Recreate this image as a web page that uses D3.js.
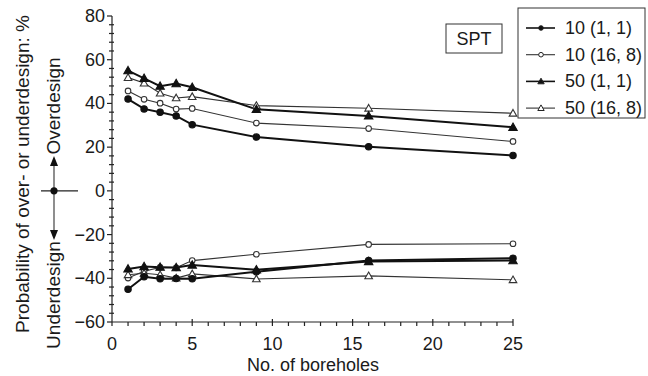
<!DOCTYPE html>
<html><head><meta charset="utf-8">
<script src="https://cdn.jsdelivr.net/npm/d3@7"></script>
<style>body{margin:0;background:#fff}svg{display:block}text{font-family:"Liberation Sans",Arial,sans-serif;fill:#1a1a1a}</style>
</head><body>
<script>
const boreholes = [1, 2, 3, 4, 5, 9, 16, 25];
const over_10_1_1   = [42.0, 37.5, 36.0, 34.3, 30.3, 24.6, 20.2, 16.2];
const over_10_16_8  = [45.7, 41.9, 40.1, 37.4, 37.7, 31.0, 28.5, 22.6];
const over_50_1_1   = [55.0, 51.5, 47.9, 49.1, 47.4, 37.3, 34.3, 29.1];
const over_50_16_8  = [51.8, 49.3, 44.7, 42.5, 43.1, 39.0, 37.8, 35.5];
const under_10_1_1  = [-45.0, -39.3, -40.2, -40.1, -40.2, -37.0, -31.9, -30.8];
const under_10_16_8 = [-39.9, -36.8, -35.0, -35.2, -31.9, -29.0, -24.5, -24.2];
const under_50_1_1  = [-35.7, -34.6, -34.9, -35.1, -33.9, -36.1, -32.3, -31.9];
const under_50_16_8 = [-38.4, -37.7, -38.4, -39.9, -38.0, -40.3, -38.9, -40.7];
const legendLabels = ["10 (1, 1)", "10 (16, 8)", "50 (1, 1)", "50 (16, 8)"];
const xTicks = [0, 5, 10, 15, 20, 25];
const yTicks = [-60, -40, -20, 0, 20, 40, 60, 80];

const W = 648, H = 376;
const svg = d3.select("body").append("svg").attr("width", W).attr("height", H);
const x = d3.scaleLinear().domain([0, 25]).range([112, 513]);
const y = d3.scaleLinear().domain([-60, 80]).range([322, 16]);

const styles = [
  {m: "circle", fill: true, thick: true},
  {m: "circle", fill: false, thick: false},
  {m: "triangle", fill: true, thick: true},
  {m: "triangle", fill: false, thick: false}
];
const series = [
  {vals: over_10_1_1, s: 0}, {vals: over_10_16_8, s: 1}, {vals: over_50_1_1, s: 2}, {vals: over_50_16_8, s: 3},
  {vals: under_10_1_1, s: 0}, {vals: under_10_16_8, s: 1}, {vals: under_50_1_1, s: 2}, {vals: under_50_16_8, s: 3}
];

function drawMarker(g, st, cx, cy) {
  const col = st.thick ? "#111" : "#333";
  if (st.m === "circle") {
    g.append("circle").attr("cx", cx).attr("cy", cy).attr("r", st.fill ? 3.2 : 2.8)
      .attr("fill", st.fill ? "#111" : "#fff").attr("stroke", col).attr("stroke-width", 1.1);
  } else {
    const s = st.fill ? 4.2 : 3.8;
    g.append("path").attr("d", `M${cx},${cy - s}L${cx + s},${cy + s * 0.75}L${cx - s},${cy + s * 0.75}Z`)
      .attr("fill", st.fill ? "#111" : "#fff").attr("stroke", col).attr("stroke-width", 1.1);
  }
}

// axes
const ax = svg.append("g").attr("stroke", "#222").attr("stroke-width", 1.2);
ax.append("line").attr("x1", x(0)).attr("x2", x(0)).attr("y1", y(80)).attr("y2", y(-60) + 4);
ax.append("line").attr("x1", x(0)).attr("x2", x(25)).attr("y1", y(-60)).attr("y2", y(-60));
d3.range(-60, 81, 4).forEach(v => {
  const major = v % 20 === 0;
  ax.append("line").attr("x1", x(0) - (major ? 5 : 3)).attr("x2", x(0) + (major ? 0 : 2)).attr("y1", y(v)).attr("y2", y(v));
});
d3.range(1, 26, 1).forEach(v => {
  const major = v % 5 === 0;
  ax.append("line").attr("x1", x(v)).attr("x2", x(v)).attr("y1", y(-60) - (major ? 3 : 0)).attr("y2", y(-60) + 4);
});
svg.append("g").selectAll("text").data(yTicks).join("text")
  .attr("x", x(0) - 7).attr("y", d => y(d) + 6).attr("text-anchor", "end").attr("font-size", 18)
  .text(d => d < 0 ? "\u2212" + Math.abs(d) : d);
svg.append("g").selectAll("text").data(xTicks).join("text")
  .attr("x", d => x(d)).attr("y", 350).attr("text-anchor", "middle").attr("font-size", 18).text(d => d);
svg.append("text").attr("x", 313).attr("y", 371).attr("text-anchor", "middle").attr("font-size", 18).text("No. of boreholes");
svg.append("text").attr("transform", "translate(29,174) rotate(-90)").attr("text-anchor", "middle").attr("font-size", 19)
  .text("Probability of over- or underdesign: %");
svg.append("text").attr("transform", "translate(60,106) rotate(-90)").attr("text-anchor", "middle").attr("font-size", 19).text("Overdesign");
svg.append("text").attr("transform", "translate(60,295) rotate(-90)").attr("text-anchor", "middle").attr("font-size", 19).text("Underdesign");

// arrow indicator
const ar = svg.append("g");
ar.append("line").attr("x1", 41).attr("x2", 78).attr("y1", y(0)).attr("y2", y(0)).attr("stroke", "#222").attr("stroke-width", 1.2);
ar.append("line").attr("x1", 54).attr("x2", 54).attr("y1", 164).attr("y2", 231).attr("stroke", "#444").attr("stroke-width", 1.2);
ar.append("path").attr("d", "M54,156L50,166L58,166Z").attr("fill", "#111");
ar.append("path").attr("d", "M54,240L50,230L58,230Z").attr("fill", "#111");
ar.append("circle").attr("cx", 54).attr("cy", y(0)).attr("r", 3.6).attr("fill", "#111");

// series
const line = d3.line().x(d => x(d[0])).y(d => y(d[1]));
const order = [1, 3, 0, 2, 5, 7, 4, 6];
order.forEach(i => {
  const sr = series[i], st = styles[sr.s];
  const pts = boreholes.map((b, j) => [b, sr.vals[j]]);
  svg.append("path").attr("d", line(pts)).attr("fill", "none")
    .attr("stroke", st.thick ? "#111" : "#333").attr("stroke-width", st.thick ? 2 : 1.1);
});
order.forEach(i => {
  const sr = series[i], st = styles[sr.s];
  const g = svg.append("g");
  boreholes.forEach((b, j) => drawMarker(g, st, x(b), y(sr.vals[j])));
});

// SPT box
svg.append("rect").attr("x", 446).attr("y", 24).attr("width", 56).attr("height", 29).attr("fill", "#fff").attr("stroke", "#333").attr("stroke-width", 1);
svg.append("text").attr("x", 474).attr("y", 45).attr("text-anchor", "middle").attr("font-size", 18).text("SPT");

// legend
const lg = svg.append("g");
lg.append("rect").attr("x", 518).attr("y", 8).attr("width", 127).attr("height", 110).attr("fill", "#fff").attr("stroke", "#333").attr("stroke-width", 1);
legendLabels.forEach((lab, i) => {
  const ly = 28 + i * 26.7, st = styles[i];
  lg.append("line").attr("x1", 526).attr("x2", 555).attr("y1", ly).attr("y2", ly)
    .attr("stroke", st.thick ? "#111" : "#333").attr("stroke-width", st.thick ? 1.6 : 1.1);
  if (st.m === "circle") {
    lg.append("circle").attr("cx", 541).attr("cy", ly).attr("r", 2.3).attr("fill", st.fill ? "#111" : "#fff").attr("stroke", "#222").attr("stroke-width", 1);
  } else {
    const s = 3.2;
    lg.append("path").attr("d", `M541,${ly - s}L${541 + s},${ly + s * 0.75}L${541 - s},${ly + s * 0.75}Z`)
      .attr("fill", st.fill ? "#111" : "#fff").attr("stroke", "#222").attr("stroke-width", 1);
  }
  lg.append("text").attr("x", 565).attr("y", ly + 6).attr("font-size", 18).text(lab);
});
</script>
</body></html>
